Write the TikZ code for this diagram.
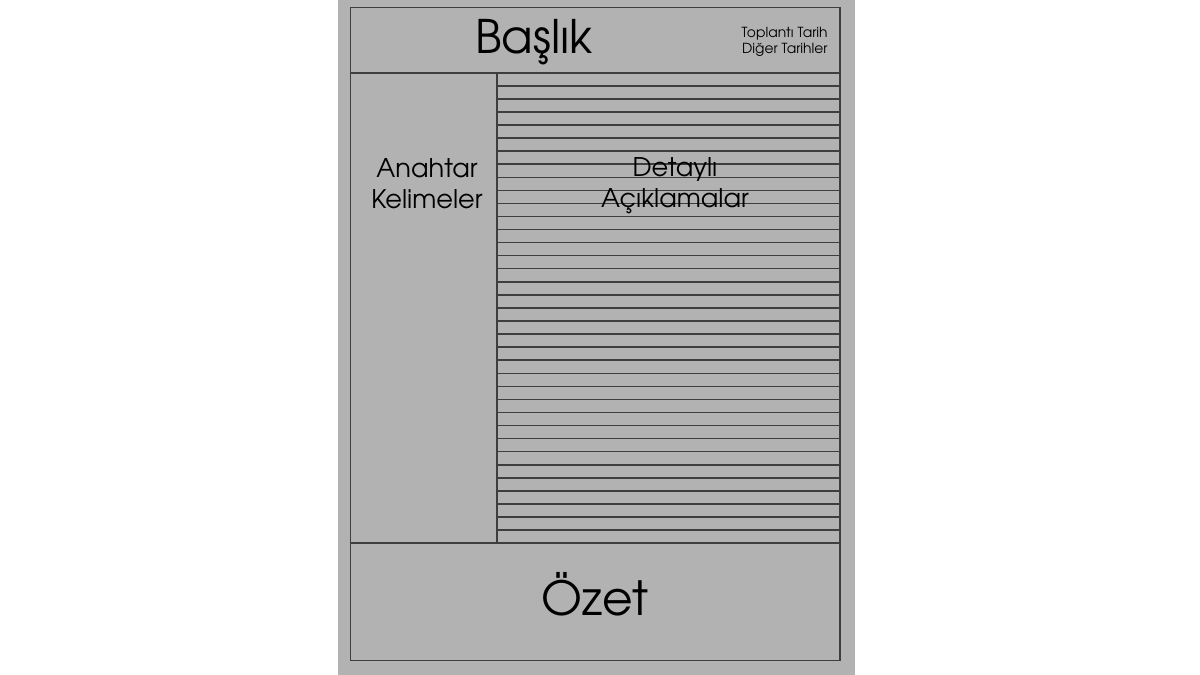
\documentclass[tikz,border=0pt]{standalone}
\usepackage{fontspec}
\setmainfont{TeX Gyre Adventor}
\usepackage{xcolor}

\begin{document}
\begin{tikzpicture}[x=0.02cm,y=-0.02cm,
  frameLine/.style={draw=lineGray,line width=1.1pt},
  ruleLine/.style={draw=lineGray,line width=0.85pt},
  label/.style={inner sep=0pt,text=black}]
\definecolor{pageGray}{RGB}{178,178,178}
\definecolor{lineGray}{RGB}{62,62,62}
\useasboundingbox (0,0) rectangle (1200,675);
\fill[pageGray] (338,0) rectangle (855,675);
% ruled lines of the notes column
\foreach \i in {1,...,35}
  \draw[ruleLine] (497,{72.7+\i*13.07}) -- (840,{72.7+\i*13.07});
% frame and sections
\draw[frameLine] (350.5,7.5) rectangle (840,660.5);
\draw[frameLine] (350.5,72.7) -- (840,72.7);
\draw[frameLine] (350.5,543.3) -- (840,543.3);
\draw[frameLine] (497,72.7) -- (497,543.3);
% texts
\node[label,anchor=base,font=\fontsize{26.3}{32}\selectfont] (baslik) at (534,53.5) {Başlık};
\node[label,anchor=east,align=right,font=\fontsize{7.9}{9.1}\selectfont] (tarih) at (828,41.5) {Toplantı Tarih\\Diğer Tarihler};
\node[label,align=center,font=\fontsize{14.6}{17.6}\selectfont] (anahtar) at (427,183.3) {Anahtar\\Kelimeler};
\node[label,align=center,font=\fontsize{14.6}{17.6}\selectfont] (detay) at (675,185.8) {Detaylı\\Açıklamalar};
\node[label,anchor=base,font=\fontsize{26.8}{32}\selectfont] (ozet) at (595,615) {Özet};
\end{tikzpicture}
\end{document}
